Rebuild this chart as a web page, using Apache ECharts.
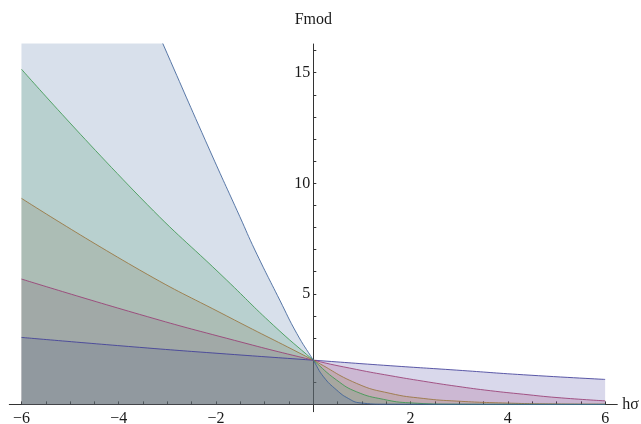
<!DOCTYPE html>
<html>
<head>
<meta charset="utf-8">
<script src="https://cdn.jsdelivr.net/npm/echarts@6/dist/echarts.min.js"></script>
<style>
  html, body { margin: 0; padding: 0; background: #ffffff; }
  #chart { width: 641px; height: 424px; }
</style>
</head>
<body>
<div id="chart"></div>
<script>
// Free-energy curves Fmod(hσ), one per coupling; each pair is [hσ, Fmod].
const curveA = [[-6, 3.03], [-3.57, 2.58], [-1.78, 2.28], [0, 2.0], [1.58, 1.75], [2.95, 1.55], [4.32, 1.34], [6, 1.13]];
const curveB = [[-6, 5.67], [-3.57, 4.07], [-1.78, 2.99], [0, 2.0], [0.89, 1.58], [1.58, 1.30], [2.26, 1.05], [2.95, 0.82], [3.64, 0.62], [4.32, 0.46], [5.01, 0.31], [6, 0.16]];
const curveC = [[-6, 9.32], [-3.57, 6.08], [-1.78, 4.0], [0, 2.0], [0.89, 0.95], [1.58, 0.50], [2.26, 0.27], [2.95, 0.15], [3.98, 0.06], [5.01, 0.02], [6, 0.01]];
const curveD = [[-6, 15.16], [-3.57, 9.39], [-1.78, 5.62], [-0.82, 3.58], [0, 2.0], [0.48, 1.10], [0.89, 0.57], [1.44, 0.23], [1.99, 0.07], [2.95, 0.01], [6, 0]];
const curveE = [[-6, 30.9], [-3.09, 16.3], [-2.13, 11.5], [-1.51, 8.49], [-1.2, 6.98], [-0.69, 4.72], [-0.34, 3.21], [0, 2.0], [0.21, 1.25], [0.48, 0.65], [0.72, 0.27], [0.96, 0.07], [1.5, 0.01], [6, 0]];

const curves = [curveA, curveB, curveC, curveD, curveE];
const curveColors = ['#3f3d99', '#993d74', '#99743d', '#3d9951', '#3d6299'];

// Axis tick marks and labelled ticks
const xTicks = [-6, -5.5, -5, -4.5, -4, -3.5, -3, -2.5, -2, -1.5, -1, -0.5, 0.5, 1, 1.5, 2, 2.5, 3, 3.5, 4, 4.5, 5, 5.5, 6];
const xTickLabels = [-6, -4, -2, 2, 4, 6];
const yTicks = [1, 2, 3, 4, 5, 6, 7, 8, 9, 10, 11, 12, 13, 14, 15, 16];
const yTickLabels = [5, 10, 15];

// Axis ranges (the plot range plus a little padding) and the plot box
const xRange = [-6.25, 6.25];
const yRange = [-0.33, 16.3];
const box = { left: 9.3, right: 23.7, top: 44, bottom: 12.3 };
const W = 641, H = 424;

// Axes cross at the origin: shift each axis from its grid edge to zero
const boxW = W - box.left - box.right;
const boxH = H - box.top - box.bottom;
const yAxisShift = -((0 - xRange[0]) / (xRange[1] - xRange[0])) * boxW;
const xAxisShift = -((0 - yRange[0]) / (yRange[1] - yRange[0])) * boxH;

const serif = "'Liberation Serif', 'Times New Roman', 'DejaVu Serif', serif";
const ink = '#1a1a1a';

const chart = echarts.init(document.getElementById('chart'), null, { renderer: 'canvas' });

chart.setOption({
  animation: false,
  backgroundColor: '#ffffff',
  grid: {
    left: box.left, right: box.right, top: box.top, bottom: box.bottom,
    containLabel: false,
    outerBoundsMode: 'none'
  },
  xAxis: {
    type: 'value',
    position: 'bottom',
    offset: xAxisShift,
    min: xRange[0], max: xRange[1],
    name: 'hσ',
    nameLocation: 'end',
    nameGap: 5,
    nameTextStyle: { fontFamily: serif, fontSize: 16, color: ink, verticalAlign: 'middle', align: 'left' },
    axisLine: { onZero: false, lineStyle: { color: '#333333', width: 1 } },
    axisTick: { inside: true, length: 3, customValues: xTicks, lineStyle: { color: '#333333' } },
    axisLabel: {
      customValues: xTickLabels,
      margin: 6,
      fontFamily: serif, fontSize: 16, color: ink,
      formatter: v => (v < 0 ? '\u2212' + Math.abs(v) : String(v))
    },
    splitLine: { show: false }
  },
  yAxis: {
    type: 'value',
    position: 'left',
    offset: yAxisShift,
    min: yRange[0], max: yRange[1],
    name: 'Fmod',
    nameLocation: 'end',
    nameGap: 16,
    nameTextStyle: { fontFamily: serif, fontSize: 16, color: ink, align: 'center' },
    axisLine: { show: true, onZero: false, lineStyle: { color: '#333333', width: 1 } },
    axisTick: { show: true, inside: true, length: 3, customValues: yTicks, lineStyle: { color: '#333333' } },
    axisLabel: {
      customValues: yTickLabels,
      margin: 3,
      fontFamily: serif, fontSize: 16, color: ink
    },
    splitLine: { show: false }
  },
  series: curves.map((data, i) => ({
    type: 'line',
    data: data,
    showSymbol: false,
    smooth: 0.5,
    clip: true,
    lineStyle: { color: curveColors[i], width: 1, opacity: 0.85 },
    areaStyle: { color: curveColors[i], opacity: 0.2, origin: 'auto' },
    emphasis: { disabled: true }
  }))
});
</script>
</body>
</html>
